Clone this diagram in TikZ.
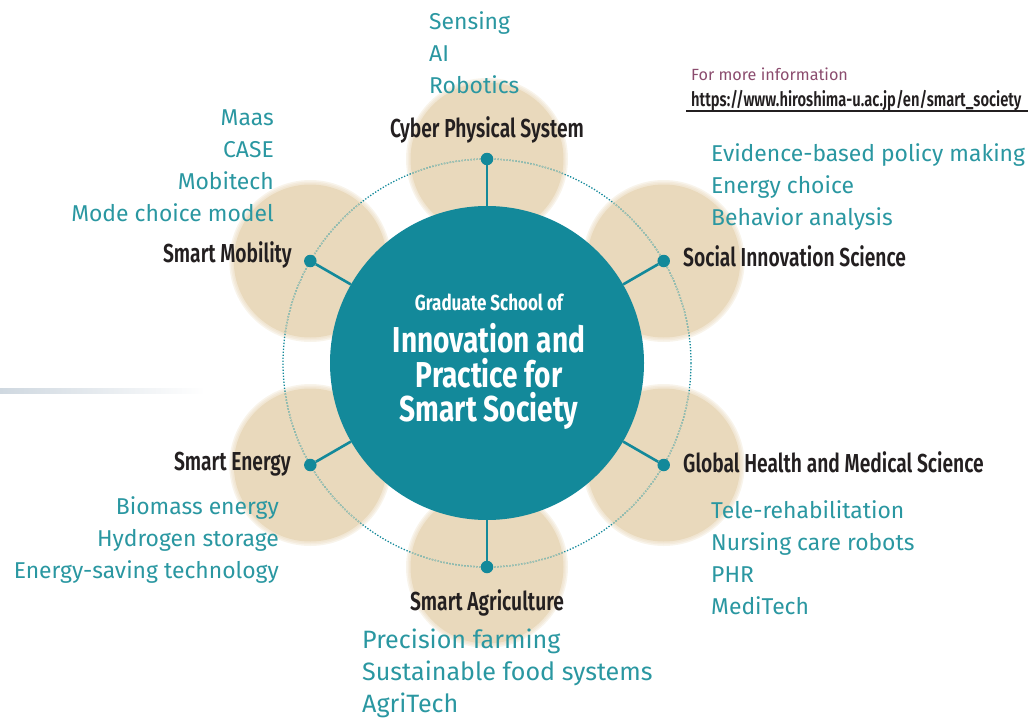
\documentclass[tikz,border=0pt]{standalone}
\usepackage{fontspec}
\setmainfont{Fira Sans}
\newfontfamily\condfont{Fira Sans}[FakeStretch=0.74, BoldFont={Fira Sans SemiBold}]
\newfontfamily\centfont{Fira Sans}[FakeStretch=0.78]
\definecolor{cteal}{HTML}{13899A}
\definecolor{itemc}{HTML}{2A97A1}
\definecolor{labc}{HTML}{231F20}
\definecolor{petalc}{HTML}{E9D9BC}
\definecolor{plum}{HTML}{8B4C6E}
\definecolor{dotlight}{HTML}{A3C4B4}
\definecolor{barc}{HTML}{CFD8E0}
\begin{document}
\begin{tikzpicture}[x=1pt,y=-1pt,
  item/.style={text=itemc, font=\fontsize{22.9}{22.9}\selectfont, inner sep=0pt},
  itembig/.style={text=itemc, font=\fontsize{25.1}{25.1}\selectfont, inner sep=0pt},
  lab/.style={text=labc, font=\condfont\bfseries\fontsize{26}{26}\selectfont, inner sep=0pt},
  ctext/.style={text=white, font=\centfont\bfseries\fontsize{36}{36}\selectfont, inner sep=0pt, anchor=base},
  dotnode/.style={circle, fill=cteal, minimum size=12.5pt, inner sep=0pt},
  conn/.style={draw=cteal, line width=2.6pt},
  petal/.style={fill=petalc}
]
\useasboundingbox (0,0) rectangle (1028,720);
% petals
\foreach \px/\py in {487/159, 663.7/261, 663.7/465, 487/567, 310.3/465, 310.3/261}{
  \foreach \r in {81,79.5,78}{\fill[petalc, opacity=0.3] (\px,\py) circle[radius=\r];}
  \fill[petal] (\px,\py) circle[radius=76.5];
}
% gray bar
\shade[left color=barc, right color=white] (0,388) rectangle (205,393);
% dotted circle
\draw[cteal, line width=1.3pt, dash pattern=on 1.3pt off 1.7pt] (487,363) circle[radius=204];
\begin{scope}
  \clip (487,159) circle[radius=77] (663.7,261) circle[radius=77] (663.7,465) circle[radius=77]
        (487,567) circle[radius=77] (310.3,465) circle[radius=77] (310.3,261) circle[radius=77];
  \draw[dotlight, line width=1.5pt, dash pattern=on 1.3pt off 1.7pt] (487,363) circle[radius=204];
\end{scope}
% center
\node[circle, fill=cteal, minimum size=314pt, inner sep=0pt] (c) at (487,363) {};
% dots
\node[dotnode] (d1) at (487,159) {};
\node[dotnode] (d2) at (663.7,261) {};
\node[dotnode] (d3) at (663.7,465) {};
\node[dotnode] (d4) at (487,567) {};
\node[dotnode] (d5) at (310.3,465) {};
\node[dotnode] (d6) at (310.3,261) {};
\foreach \d in {d1,d2,d3,d4,d5,d6}{\draw[conn] (\d) -- (c);}
% center text
\node[ctext, font=\centfont\bfseries\fontsize{21.8}{21.8}\selectfont] (t0) at (489,310) {Graduate School of};
\node[ctext] (t1) at (489,352) {Innovation and};
\node[ctext] (t2) at (489,387) {Practice for};
\node[ctext] (t3) at (489,421) {Smart Society};
% labels
\node[lab, anchor=base] (l1) at (487,137) {Cyber Physical System};
\node[lab, anchor=base west] (l2) at (683,266) {Social Innovation Science};
\node[lab, anchor=base west] (l3) at (683,472) {Global Health and Medical Science};
\node[lab, anchor=base] (l4) at (487,610) {Smart Agriculture};
\node[lab, anchor=base east] (l5) at (291,470) {Smart Energy};
\node[lab, anchor=base east] (l6) at (292,262) {Smart Mobility};
% top items
\node[item, anchor=base west] (a1) at (429,29) {Sensing};
\node[item, anchor=base west] (a2) at (429,61) {AI};
\node[item, anchor=base west] (a3) at (429,93) {Robotics};
% social items
\node[item, anchor=base west] (b1) at (711,161) {Evidence-based policy making};
\node[item, anchor=base west] (b2) at (711,193) {Energy choice};
\node[item, anchor=base west] (b3) at (711,225) {Behavior analysis};
% global items
\node[item, anchor=base west] (g1) at (711,518) {Tele-rehabilitation};
\node[item, anchor=base west] (g2) at (711,550) {Nursing care robots};
\node[item, anchor=base west] (g3) at (711,582) {PHR};
\node[item, anchor=base west] (g4) at (711,614) {MediTech};
% agriculture items
\node[itembig, anchor=base west] (s1) at (362,648) {Precision farming};
\node[itembig, anchor=base west] (s2) at (362,680) {Sustainable food systems};
\node[itembig, anchor=base west] (s3) at (362,712) {AgriTech};
% energy items
\node[item, anchor=base east] (e1) at (279,514) {Biomass energy};
\node[item, anchor=base east] (e2) at (279,546) {Hydrogen storage};
\node[item, anchor=base east] (e3) at (279,578) {Energy-saving technology};
% mobility items
\node[item, anchor=base east] (m1) at (274,125) {Maas};
\node[item, anchor=base east] (m2) at (274,157) {CASE};
\node[item, anchor=base east] (m3) at (274,189) {Mobitech};
\node[item, anchor=base east] (m4) at (274,221) {Mode choice model};
% info
\node[anchor=base west, inner sep=0pt, text=plum, font=\fontsize{16.2}{16.2}\selectfont] (info) at (691,80) {For more information};
\node[anchor=base west, inner sep=0pt, text=labc, font=\condfont\bfseries\fontsize{19.9}{19.9}\selectfont] (url) at (691,106) {https://www.hiroshima-u.ac.jp/en/smart\_society};
\draw[labc, line width=1.3pt] (686,111) -- (1028,111);
\end{tikzpicture}
\end{document}
